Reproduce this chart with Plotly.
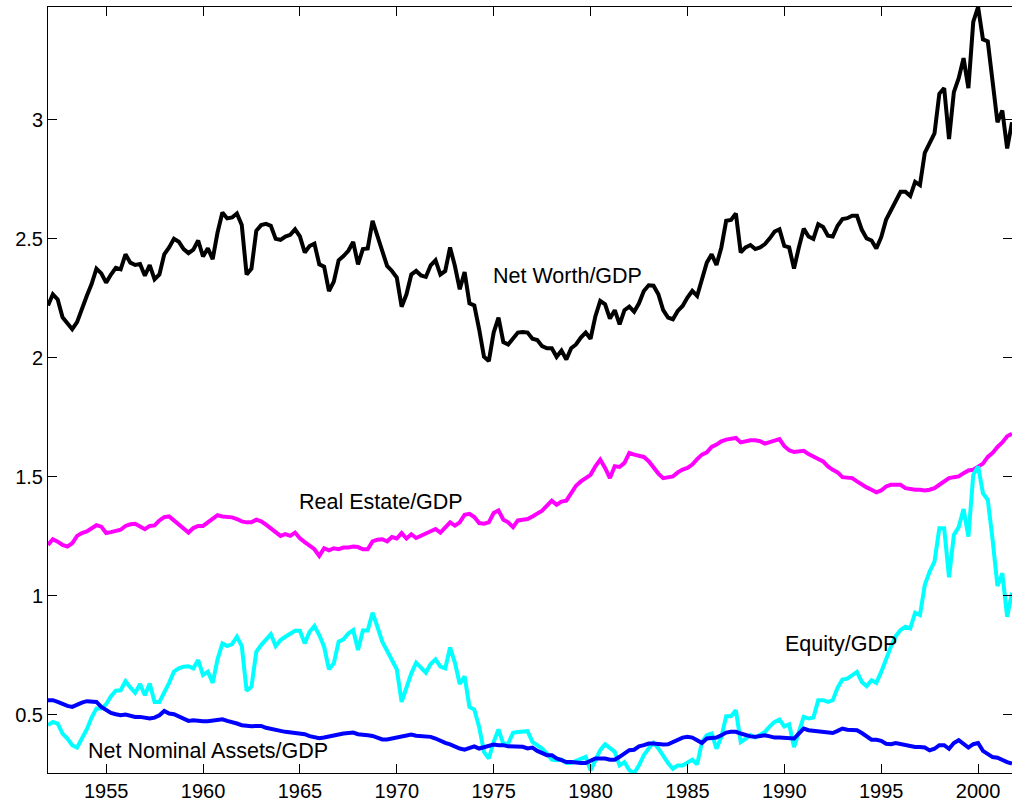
import numpy as np
import plotly.graph_objects as go

# Quarterly observations, 1952Q1 - 2001Q4 (ratios to GDP)
start_year = 1952
n_quarters = 200

net_worth = [
    2.22, 2.267, 2.245, 2.17, 2.145, 2.12, 2.15, 2.21, 2.26, 2.31,
    2.375, 2.355, 2.316, 2.35, 2.378, 2.372, 2.435, 2.40, 2.39, 2.394,
    2.345, 2.39, 2.33, 2.35, 2.435, 2.464, 2.50, 2.488, 2.457, 2.44,
    2.455, 2.493, 2.426, 2.46, 2.415, 2.527, 2.611, 2.586, 2.59, 2.607,
    2.558, 2.35, 2.375, 2.534, 2.558, 2.563, 2.555, 2.50, 2.496, 2.51,
    2.517, 2.54, 2.51, 2.443, 2.47, 2.48, 2.393, 2.383, 2.28, 2.32,
    2.41, 2.428, 2.45, 2.487, 2.393, 2.457, 2.46, 2.576, 2.513, 2.443,
    2.386, 2.365, 2.337, 2.215, 2.267, 2.35, 2.365, 2.346, 2.34, 2.389,
    2.41, 2.35, 2.365, 2.464, 2.386, 2.288, 2.36, 2.229, 2.22, 2.12,
    2.004, 1.986, 2.106, 2.169, 2.066, 2.056, 2.082, 2.106, 2.108, 2.106,
    2.08, 2.075, 2.049, 2.04, 2.04, 2.004, 2.03, 1.993, 2.04, 2.056,
    2.085, 2.106, 2.08, 2.175, 2.239, 2.225, 2.165, 2.20, 2.14, 2.20,
    2.215, 2.194, 2.229, 2.281, 2.305, 2.303, 2.267, 2.20, 2.169, 2.162,
    2.197, 2.218, 2.253, 2.281, 2.26, 2.33, 2.40, 2.435, 2.39, 2.464,
    2.576, 2.58, 2.607, 2.443, 2.464, 2.474, 2.457, 2.464, 2.478, 2.502,
    2.531, 2.54, 2.47, 2.464, 2.375, 2.464, 2.543, 2.51, 2.50, 2.562,
    2.55, 2.513, 2.51, 2.555, 2.583, 2.587, 2.597, 2.597, 2.538, 2.502,
    2.493, 2.46, 2.507, 2.58, 2.618, 2.66, 2.698, 2.698, 2.68, 2.74,
    2.726, 2.862, 2.904, 2.943, 3.11, 3.134, 2.92, 3.117, 3.176, 3.26,
    3.134, 3.412, 3.475, 3.339, 3.33, 3.174, 2.99, 3.04, 2.88, 2.99,
]

real_estate = [
    1.213, 1.237, 1.227, 1.213, 1.206, 1.22, 1.251, 1.263, 1.27, 1.284,
    1.296, 1.29, 1.263, 1.267, 1.271, 1.277, 1.293, 1.30, 1.302, 1.288,
    1.279, 1.293, 1.295, 1.316, 1.33, 1.333, 1.316, 1.298, 1.277, 1.265,
    1.284, 1.293, 1.293, 1.308, 1.322, 1.338, 1.333, 1.331, 1.329, 1.322,
    1.312, 1.308, 1.308, 1.319, 1.312, 1.298, 1.284, 1.27, 1.251, 1.258,
    1.251, 1.265, 1.241, 1.225, 1.209, 1.195, 1.167, 1.199, 1.19, 1.199,
    1.195, 1.202, 1.202, 1.206, 1.204, 1.195, 1.195, 1.228, 1.235, 1.237,
    1.228, 1.246, 1.24, 1.263, 1.24, 1.258, 1.242, 1.251, 1.26, 1.272,
    1.28, 1.265, 1.288, 1.308, 1.294, 1.308, 1.34, 1.344, 1.33, 1.305,
    1.302, 1.308, 1.347, 1.358, 1.319, 1.308, 1.288, 1.316, 1.319, 1.322,
    1.333, 1.344, 1.357, 1.378, 1.399, 1.382, 1.395, 1.399, 1.428, 1.462,
    1.48, 1.492, 1.508, 1.544, 1.572, 1.537, 1.494, 1.544, 1.541, 1.558,
    1.60, 1.593, 1.586, 1.583, 1.565, 1.537, 1.513, 1.494, 1.499, 1.501,
    1.518, 1.53, 1.537, 1.551, 1.574, 1.593, 1.602, 1.625, 1.635, 1.649,
    1.656, 1.658, 1.663, 1.644, 1.649, 1.653, 1.653, 1.649, 1.639, 1.644,
    1.653, 1.658, 1.628, 1.611, 1.604, 1.607, 1.609, 1.595, 1.583, 1.574,
    1.564, 1.543, 1.529, 1.518, 1.498, 1.498, 1.494, 1.48, 1.466, 1.455,
    1.445, 1.434, 1.442, 1.459, 1.466, 1.466, 1.466, 1.452, 1.448, 1.445,
    1.445, 1.442, 1.445, 1.452, 1.466, 1.48, 1.494, 1.498, 1.501, 1.515,
    1.526, 1.529, 1.541, 1.555, 1.583, 1.60, 1.625, 1.644, 1.67, 1.681,
]

equity = [
    0.455, 0.469, 0.462, 0.42, 0.399, 0.371, 0.361, 0.399, 0.437, 0.487,
    0.525, 0.525, 0.543, 0.577, 0.60, 0.602, 0.64, 0.614, 0.591, 0.628,
    0.581, 0.63, 0.553, 0.553, 0.591, 0.633, 0.68, 0.694, 0.701, 0.703,
    0.694, 0.729, 0.666, 0.68, 0.633, 0.732, 0.799, 0.788, 0.796, 0.827,
    0.788, 0.60, 0.617, 0.764, 0.792, 0.816, 0.838, 0.788, 0.813, 0.827,
    0.838, 0.852, 0.852, 0.799, 0.848, 0.872, 0.834, 0.785, 0.69, 0.715,
    0.806, 0.816, 0.841, 0.855, 0.771, 0.853, 0.853, 0.928, 0.869, 0.806,
    0.768, 0.729, 0.69, 0.553, 0.617, 0.673, 0.718, 0.694, 0.676, 0.712,
    0.732, 0.701, 0.694, 0.782, 0.718, 0.628, 0.661, 0.532, 0.521, 0.448,
    0.343, 0.315, 0.385, 0.437, 0.375, 0.378, 0.423, 0.426, 0.427, 0.43,
    0.385, 0.371, 0.357, 0.336, 0.31, 0.308, 0.31, 0.296, 0.296, 0.305,
    0.315, 0.322, 0.265, 0.305, 0.35, 0.375, 0.357, 0.343, 0.286, 0.30,
    0.265, 0.254, 0.286, 0.329, 0.357, 0.381, 0.357, 0.324, 0.296, 0.272,
    0.286, 0.286, 0.30, 0.31, 0.29, 0.384, 0.413, 0.42, 0.356, 0.406,
    0.493, 0.493, 0.518, 0.384, 0.398, 0.413, 0.403, 0.413, 0.427, 0.45,
    0.469, 0.479, 0.45, 0.459, 0.363, 0.427, 0.49, 0.483, 0.487, 0.56,
    0.56, 0.553, 0.56, 0.613, 0.647, 0.651, 0.665, 0.679, 0.637, 0.619,
    0.644, 0.633, 0.679, 0.736, 0.785, 0.83, 0.855, 0.869, 0.862, 0.928,
    0.918, 1.045, 1.101, 1.143, 1.283, 1.283, 1.077, 1.255, 1.288, 1.364,
    1.248, 1.508, 1.543, 1.431, 1.403, 1.234, 1.04, 1.094, 0.911, 1.012,
]

net_nominal = [
    0.56, 0.56, 0.553, 0.543, 0.536, 0.532, 0.543, 0.55, 0.556, 0.553,
    0.553, 0.532, 0.518, 0.507, 0.501, 0.497, 0.50, 0.493, 0.49, 0.49,
    0.486, 0.483, 0.487, 0.497, 0.515, 0.504, 0.501, 0.493, 0.483, 0.473,
    0.476, 0.473, 0.472, 0.472, 0.476, 0.479, 0.48, 0.473, 0.469, 0.462,
    0.455, 0.451, 0.451, 0.452, 0.452, 0.444, 0.441, 0.434, 0.431, 0.427,
    0.424, 0.423, 0.42, 0.417, 0.409, 0.403, 0.40, 0.403, 0.406, 0.413,
    0.416, 0.42, 0.42, 0.424, 0.417, 0.413, 0.413, 0.41, 0.402, 0.395,
    0.395, 0.399, 0.403, 0.406, 0.41, 0.416, 0.411, 0.41, 0.409, 0.406,
    0.399, 0.388, 0.381, 0.374, 0.364, 0.357, 0.352, 0.357, 0.366, 0.357,
    0.364, 0.371, 0.374, 0.371, 0.371, 0.366, 0.366, 0.364, 0.364, 0.357,
    0.361, 0.347, 0.336, 0.329, 0.329, 0.315, 0.308, 0.30, 0.30, 0.296,
    0.296, 0.296, 0.305, 0.315, 0.315, 0.315, 0.31, 0.31, 0.322, 0.338,
    0.35, 0.352, 0.366, 0.371, 0.378, 0.378, 0.374, 0.374, 0.375, 0.385,
    0.392, 0.403, 0.406, 0.403, 0.392, 0.38, 0.399, 0.399, 0.403, 0.413,
    0.424, 0.427, 0.427, 0.42, 0.413, 0.408, 0.406, 0.408, 0.413, 0.408,
    0.403, 0.403, 0.401, 0.399, 0.399, 0.42, 0.441, 0.434, 0.431, 0.429,
    0.427, 0.424, 0.422, 0.431, 0.441, 0.436, 0.434, 0.434, 0.422, 0.406,
    0.394, 0.394, 0.389, 0.377, 0.375, 0.38, 0.375, 0.371, 0.366, 0.363,
    0.363, 0.361, 0.349, 0.356, 0.371, 0.371, 0.356, 0.38, 0.392, 0.377,
    0.361, 0.375, 0.38, 0.347, 0.332, 0.321, 0.318, 0.307, 0.30, 0.293,
]

x_ticks = [1955, 1960, 1965, 1970, 1975, 1980, 1985, 1990, 1995, 2000]
y_ticks = [0.5, 1, 1.5, 2, 2.5, 3]
y_tick_text = ["0.5", "1", "1.5", "2", "2.5", "3"]

# Series labels placed in data coordinates
labels = [
    ("Net Worth/GDP", 1978.8, 2.343),
    ("Real Estate/GDP", 1969.2, 1.393),
    ("Equity/GDP", 1992.9, 0.798),
    ("Net Nominal Assets/GDP", 1960.25, 0.347),
]

t = start_year + np.arange(n_quarters) / 4.0

series = [
    (net_worth, "#000000"),
    (real_estate, "#FF00FF"),
    (equity, "#00FFFF"),
    (net_nominal, "#0000FF"),
]

FONT = "Liberation Sans, Arial, Helvetica"

fig = go.Figure()
for values, color in series:
    fig.add_trace(go.Scatter(
        x=t, y=values, mode="lines",
        line=dict(color=color, width=4),
        showlegend=False, hoverinfo="skip",
    ))

for text, xv, yv in labels:
    fig.add_annotation(
        x=xv, y=yv, text=text, showarrow=False,
        font=dict(family=FONT, size=21.5, color="#000000"),
        xanchor="center", yanchor="middle",
    )

all_vals = net_worth + real_estate + equity + net_nominal
y_lo, y_hi = min(all_vals), max(all_vals)

axis_common = dict(
    showline=True, linecolor="#000000", linewidth=1,
    mirror="ticks", ticks="inside", ticklen=9, tickwidth=1, tickcolor="#000000",
    showgrid=False, zeroline=False,
    tickfont=dict(family=FONT, size=20, color="#000000"),
)

fig.update_xaxes(
    range=[t[0], t[-1]], tickvals=x_ticks, ticktext=[str(v) for v in x_ticks],
    **axis_common,
)
fig.update_yaxes(
    range=[y_lo, y_hi], tickvals=y_ticks, ticktext=y_tick_text,
    **axis_common,
)

fig.update_layout(
    width=1012, height=804,
    margin=dict(l=48, r=0, t=7, b=31),
    paper_bgcolor="#FFFFFF", plot_bgcolor="#FFFFFF",
)

fig.write_html("out.html")
